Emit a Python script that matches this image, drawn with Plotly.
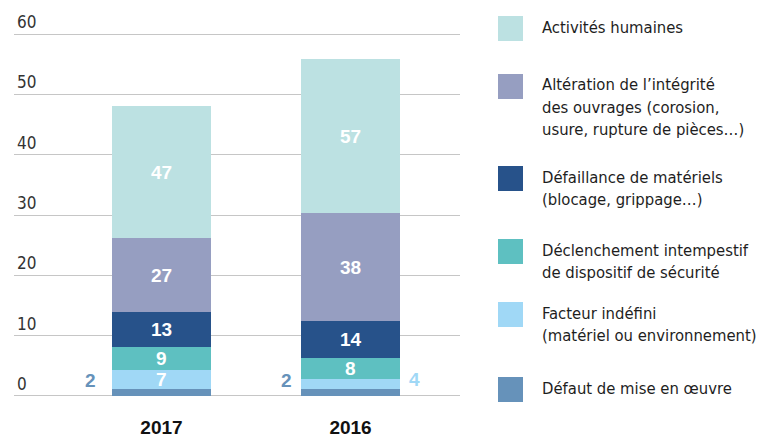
import plotly.graph_objects as go

W, H = 761, 438
FONT = "DejaVu Sans Condensed, Liberation Sans Narrow, sans-serif"
BOLD = "Liberation Sans, Arial, sans-serif"

years = ["2017", "2016"]

# stacking order, bottom to top
causes = [
    "Défaut de mise en œuvre",
    "Facteur indéfini (matériel ou environnement)",
    "Déclenchement intempestif de dispositif de sécurité",
    "Défaillance de matériels (blocage, grippage…)",
    "Altération de l’intégrité des ouvrages (corosion, usure, rupture de pièces…)",
    "Activités humaines",
]
legend_lines = [
    ["Défaut de mise en œuvre"],
    ["Facteur indéfini", "(matériel ou environnement)"],
    ["Déclenchement intempestif", "de dispositif de sécurité"],
    ["Défaillance de matériels", "(blocage, grippage…)"],
    ["Altération de l’intégrité", "des ouvrages (corosion,", "usure, rupture de pièces…)"],
    ["Activités humaines"],
]
colors = ["#6692ba", "#a0d8f6", "#5ec0c1", "#27528a", "#969ec1", "#bce1e2"]

# segment heights read on the axis (2017, 2016)
heights = [
    [1.1, 1.1],
    [3.2, 1.7],
    [3.8, 3.5],
    [5.8, 6.1],
    [12.3, 17.9],
    [21.8, 25.6],
]
# printed values (2017, 2016)
labels = [
    [2, 2],
    [7, 4],
    [9, 8],
    [13, 14],
    [27, 38],
    [47, 57],
]

y_ticks = [0, 10, 20, 30, 40, 50, 60]

# pixel frame of the plot area
X0, X1 = 14, 460
Y_TOP, Y_BOT = 10, 402


def px(x):
    return x / W


def py(y):
    return 1 - y / H


xpos = list(range(len(years)))

fig = go.Figure()
for cause, col, h in zip(causes, colors, heights):
    fig.add_trace(go.Bar(x=xpos, y=h, name=cause, marker=dict(color=col, line=dict(width=0)),
                         width=0.5236, showlegend=False, hoverinfo="skip"))

annotations = []
base = [0.0, 0.0]
for i, (h, lab) in enumerate(zip(heights, labels)):
    for j in xpos:
        if i == 0:
            # thin bottom segment: value written left of the bar
            annotations.append(dict(x=j, y=2.6, text=f"<b>{lab[j]}</b>", showarrow=False,
                                    xanchor="right", xshift=-57 if j else -63,
                                    font=dict(family=BOLD, size=19, color=colors[0])))
        elif i == 1 and j == 1:
            annotations.append(dict(x=j, y=2.8, text=f"<b>{lab[j]}</b>", showarrow=False,
                                    xanchor="left", xshift=56,
                                    font=dict(family=BOLD, size=19, color=colors[1])))
        else:
            annotations.append(dict(x=j, y=base[j] + h[j] / 2, text=f"<b>{lab[j]}</b>",
                                    showarrow=False,
                                    font=dict(family=BOLD, size=19, color="white")))
        base[j] += h[j]

# hand-made legend, top to bottom
shapes = []
sq_tops = [377, 302, 239, 166, 74, 16]
for lines, col, top in zip(legend_lines, colors, sq_tops):
    shapes.append(dict(type="rect", xref="paper", yref="paper",
                       x0=px(498), x1=px(523), y0=py(top), y1=py(top + 25),
                       fillcolor=col, line=dict(width=0)))
    for k, line in enumerate(lines):
        annotations.append(dict(xref="paper", yref="paper", x=px(540), y=py(top + 11 + 22.5 * k),
                                text=line, showarrow=False, xanchor="left", yanchor="middle",
                                font=dict(family=FONT, size=16.5, color="#1e1e1e")))

fig.update_layout(
    width=W, height=H,
    margin=dict(l=0, r=0, t=0, b=0),
    plot_bgcolor="white", paper_bgcolor="white",
    barmode="stack", bargap=0,
    shapes=shapes, annotations=annotations,
    xaxis=dict(domain=[px(X0), px(X1)], range=[-0.780, 1.579], showgrid=False, zeroline=False,
               showline=False, ticks="outside", ticklen=8, tickcolor="rgba(0,0,0,0)",
               automargin=False,
               tickfont=dict(family=BOLD, size=19, color="#111111"),
               tickvals=xpos, ticktext=[f"<b>{y}</b>" for y in years]),
    yaxis=dict(domain=[py(Y_BOT), py(Y_TOP)], range=[-1, 64], tickvals=y_ticks,
               showgrid=True, gridcolor="#c6c6c6", gridwidth=1, zeroline=False, showline=False,
               ticklabelposition="inside top", ticks="", automargin=False,
               tickfont=dict(family=FONT, size=17, color="#333333")),
)

fig.write_html("out.html", config={"displayModeBar": False},
               post_script="document.body.style.margin='0';")
